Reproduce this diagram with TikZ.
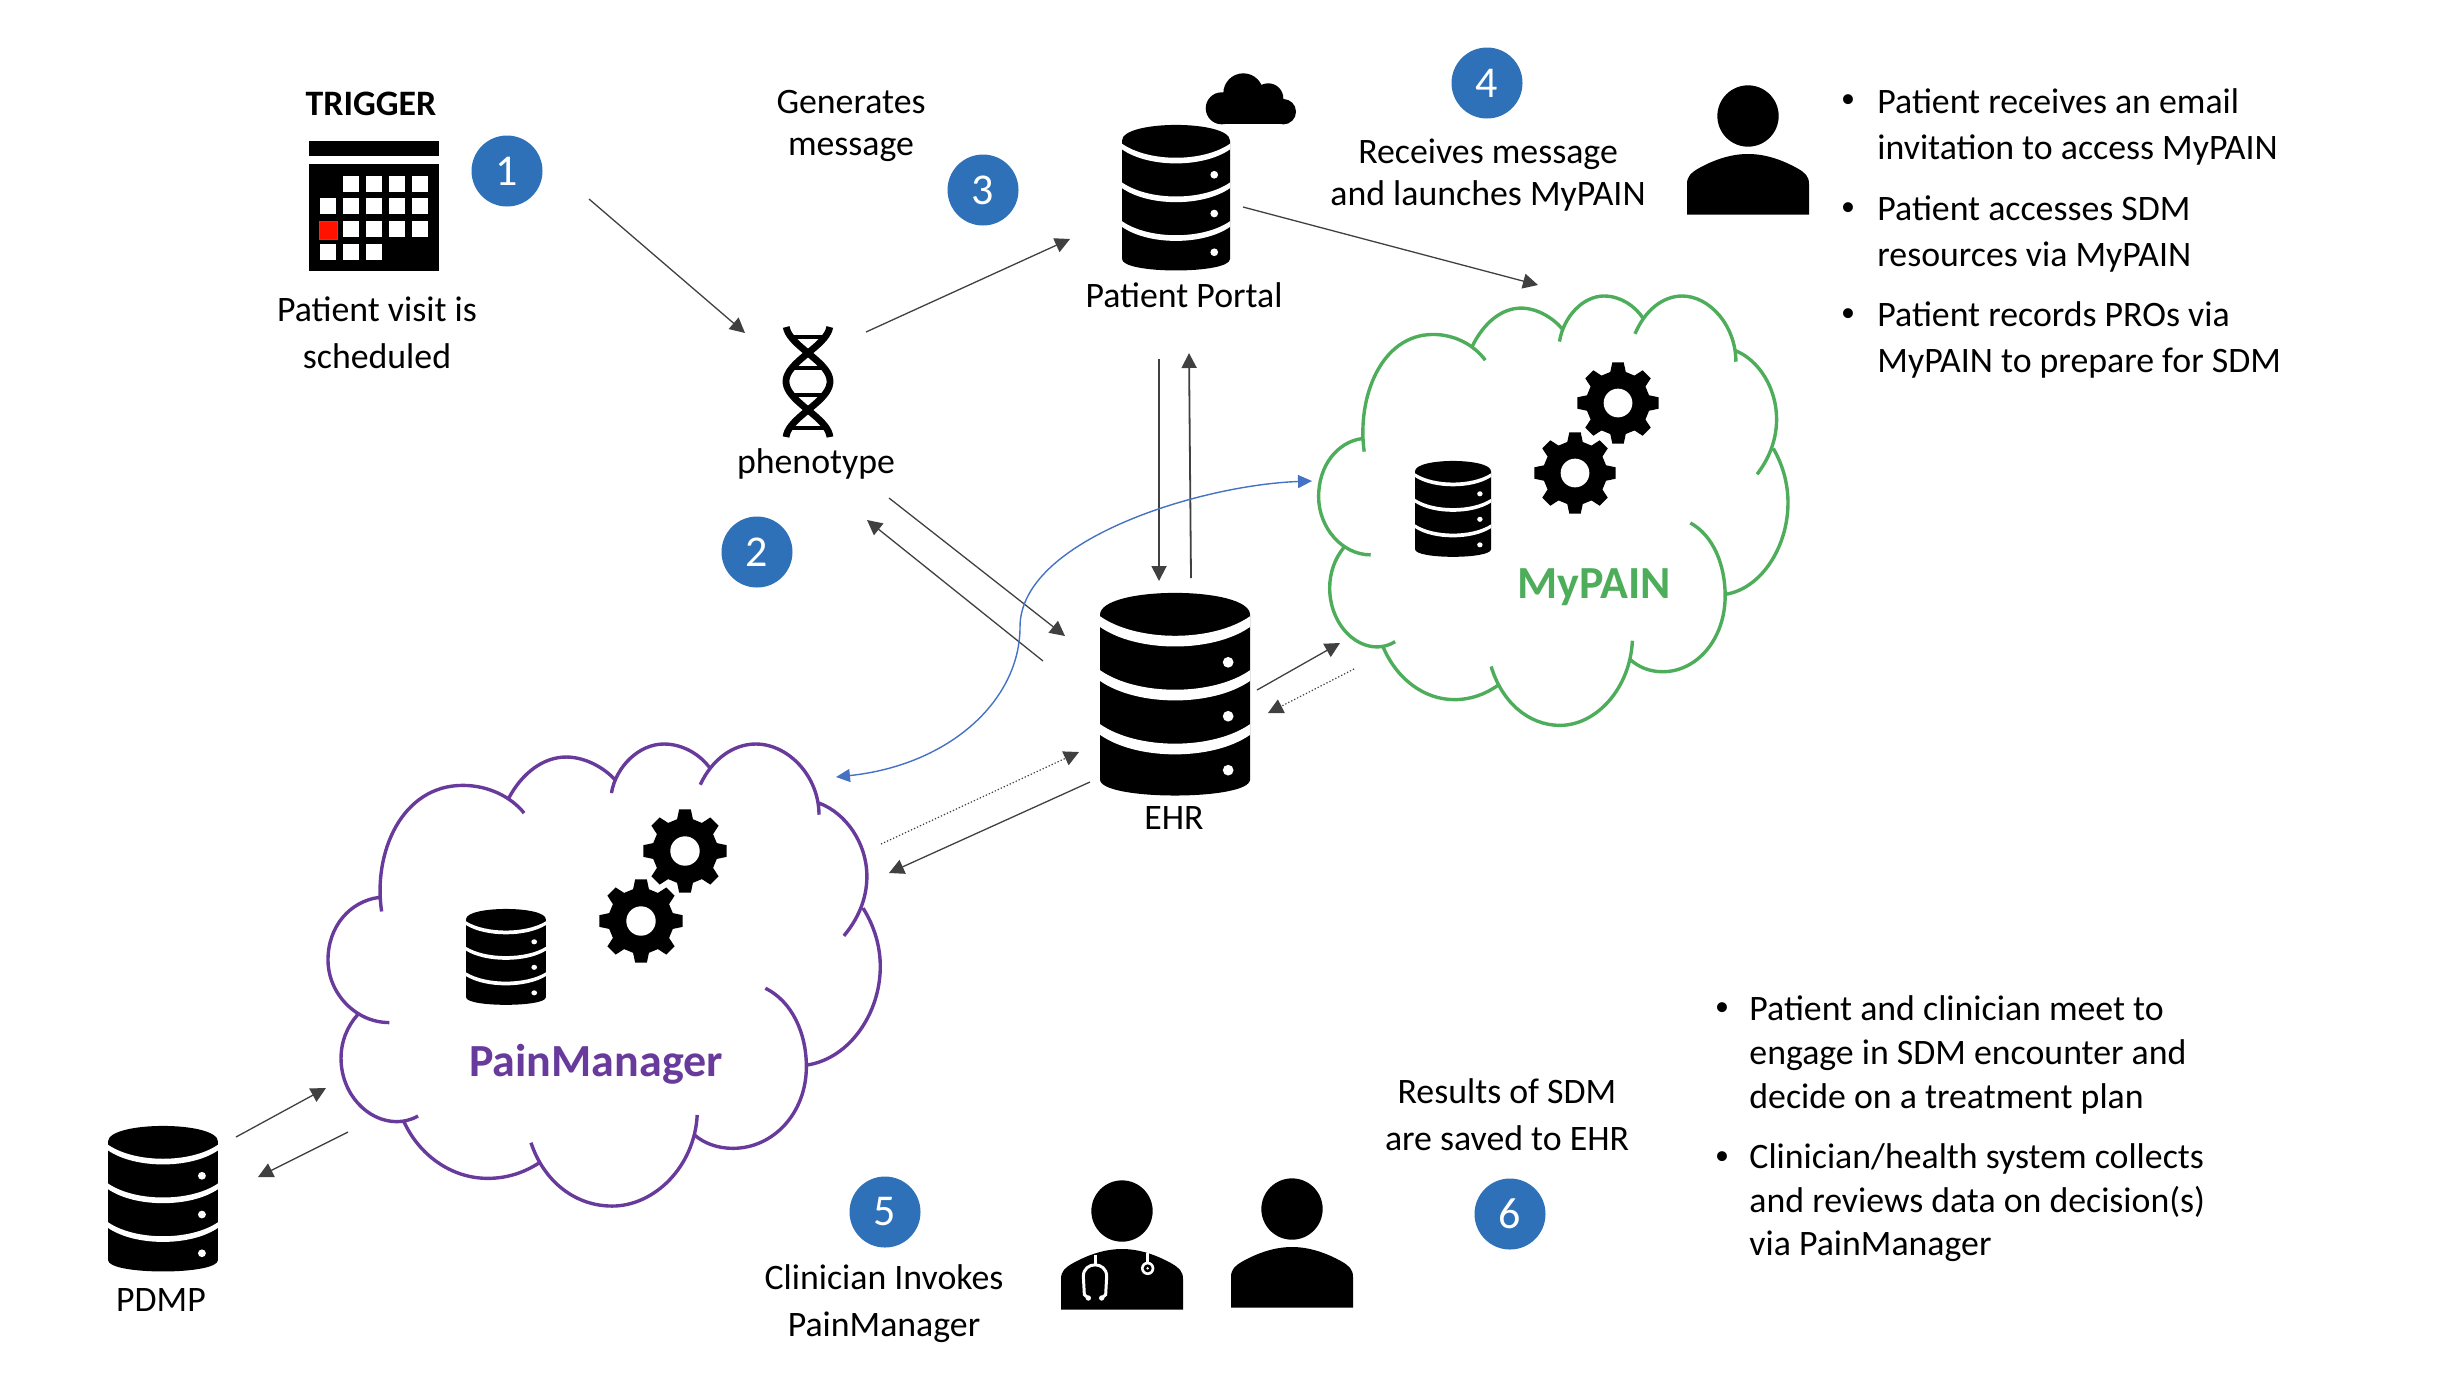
\documentclass[tikz,border=0pt]{standalone}
\usepackage{fontspec}
\setmainfont{Carlito}
\usetikzlibrary{arrows.meta}
\definecolor{numblue}{HTML}{2E71B8}
\definecolor{linkblue}{HTML}{4472C4}
\definecolor{arrowgray}{HTML}{404040}
\definecolor{mypaingreen}{HTML}{4EAD5B}
\definecolor{painpurple}{HTML}{673A9C}
\tikzset{
  bodytext/.style={inner sep=0pt,align=center,font=\fontsize{17.9}{23.5}\selectfont},
  tighttext/.style={inner sep=0pt,align=center,font=\fontsize{17.9}{21}\selectfont},
  listtext/.style={inner sep=0pt,align=left,anchor=west,font=\fontsize{17.9}{22.7}\selectfont},
  listtextb/.style={inner sep=0pt,align=left,anchor=west,font=\fontsize{17.9}{21.8}\selectfont},
  bulletdot/.style={inner sep=0pt,font=\fontsize{14}{20}\selectfont},
  numdot/.style={circle,fill=numblue,text=white,inner sep=0pt,minimum size=35.5pt,font=\fontsize{22}{24}\selectfont},
  flowline/.style={arrowgray,line width=0.65pt,-{Triangle[length=7.5pt,width=7.5pt]}},
  thickflow/.style={flowline,line width=0.9pt},
  dotline/.style={flowline,densely dotted,line width=0.6pt},
  bluelink/.style={linkblue,line width=0.7pt,{Triangle[length=7pt,width=6.5pt]}-{Triangle[length=7pt,width=6.5pt]}},
  pics/dbicon/.style={code={
    \fill (0,47) .. controls (0,-16) and (322,-16) .. (322,47) -- (322,401)
      .. controls (322,447) and (0,447) .. (0,401) -- cycle;
    \foreach \dy in {0,116,232}{
      \fill[white] (0,#1+\dy) .. controls (80,#1+56+\dy) and (242,#1+56+\dy) .. (322,#1+\dy) -- (322,73+\dy)
        .. controls (242,129+\dy) and (80,129+\dy) .. (0,73+\dy) -- cycle;
      \fill[white] (275,149+\dy) circle (11.5);
    }
  }},
  pics/gearicon/.style={code={
    \fill (-14:78) \foreach \a in {0,45,...,315}{ -- (\a-14:78) -- (\a-8:100) -- (\a+8:100) -- (\a+14:78) } -- cycle;
    \fill[white] (0,0) circle (35);
  }},
  pics/personicon/.style={code={
    \fill (0,0) circle (92);
    \fill (-183,296) -- (-183,204) .. controls (-183,180) and (-170,170) .. (-150,158)
      .. controls (-100,130) and (-50,114) .. (0,114) .. controls (50,114) and (100,130) .. (150,158)
      .. controls (170,170) and (183,180) .. (183,204) -- (183,296) -- cycle;
  }},
  pics/stethicon/.style={code={
    \draw[white,line width=1.5pt] (-81,131) -- (-81,161);
    \draw[white,line width=1.5pt] (-101,261) -- (-113,251) -- (-116,196)
      .. controls (-116,150) and (-46,150) .. (-46,196) -- (-49,251) -- (-61,261);
    \draw[white,line width=1.5pt] (77,126) -- (77,156);
    \fill[white] (-101,261) circle (8) (-61,261) circle (8) (77,172) circle (20);
    \fill (77,172) circle (12);
    \fill[white] (77,172) circle (4);
  }},
  pics/cloudshape/.style={code={
    \begin{scope}[shift={(-48,-43)}]
    \draw[#1,line width=1.7pt]
      (188,545) .. controls (165,370) and (240,167) .. (400,167) .. controls (465,167) and (525,200) .. (560,250)
      (520,205) .. controls (555,130) and (610,82) .. (670,82) .. controls (720,82) and (770,115) .. (797,150)
      (788,190) .. controls (800,110) and (860,43) .. (925,43) .. controls (975,43) and (1020,75) .. (1045,115)
      (1020,165) .. controls (1050,90) and (1105,43) .. (1165,43) .. controls (1250,43) and (1330,140) .. (1330,255)
      (1330,220) .. controls (1400,250) and (1455,340) .. (1455,440) .. controls (1455,510) and (1430,570) .. (1395,618)
      (1445,535) .. controls (1475,590) and (1490,650) .. (1490,710) .. controls (1490,850) and (1410,985) .. (1300,1005)
      (1190,775) .. controls (1260,815) and (1297,910) .. (1297,1010) .. controls (1297,1150) and (1210,1255) .. (1105,1255)
        .. controls (1065,1255) and (1030,1240) .. (1005,1215)
      (1012,1155) .. controls (1005,1310) and (900,1428) .. (790,1428) .. controls (690,1428) and (610,1350) .. (578,1238)
      (600,1298) .. controls (560,1328) and (515,1345) .. (465,1345) .. controls (370,1345) and (285,1275) .. (245,1172)
      (283,1158) .. controls (265,1170) and (245,1175) .. (228,1175) .. controls (150,1175) and (82,1090) .. (82,985)
        .. controls (82,935) and (98,890) .. (125,855)
      (208,878) .. controls (120,878) and (48,790) .. (48,690) .. controls (48,590) and (105,515) .. (180,503);
    \end{scope}
  }},
}
\begin{document}
\begin{tikzpicture}[x=0.5pt,y=-0.5pt]
\useasboundingbox (0,0) rectangle (2444,1372);

% 箭头的端点
\coordinate (calEnd) at (589,199);
\coordinate (dnaIn) at (745,333);
\coordinate (dnaOut) at (866,332);
\coordinate (portalIn) at (1070,239);
\coordinate (portalOut) at (1243,207);
\coordinate (mypainTop) at (1538,285);
\coordinate (portalDown) at (1159,359);
\coordinate (ehrUp) at (1159,581);
\coordinate (ehrUpB) at (1191,578);
\coordinate (portalDownB) at (1189,353);
\coordinate (dnaLow) at (889,498);
\coordinate (ehrLeft) at (1065,636);
\coordinate (ehrLeftB) at (1043,661);
\coordinate (dnaLowB) at (867,520);
\coordinate (ehrRight) at (1257,690);
\coordinate (mypainLow) at (1340,643);
\coordinate (mypainLowB) at (1354,669);
\coordinate (ehrRightB) at (1268,713);
\coordinate (painTop) at (881,844);
\coordinate (ehrLower) at (1079,752);
\coordinate (ehrLowerB) at (1090,782);
\coordinate (painTopB) at (889,873);
\coordinate (pdmpOut) at (236,1137);
\coordinate (painLeft) at (326,1088);
\coordinate (painLeftB) at (348,1132);
\coordinate (pdmpIn) at (258,1177);
\coordinate (blueA) at (1312,481);
\coordinate (blueB) at (836,777);

% 日历
\fill (309,141) rectangle (439,156);
\fill (309,164) rectangle (439,271);
\foreach \x/\y in {343/176,366/176,389/176,412/176,
  320/198,343/198,366/198,389/198,412/198,
  343/221,366/221,389/221,412/221,
  320/244,343/244,366/244}{
  \fill[white] (\x,\y) rectangle ++(15.5,15.5);
}
\filldraw[fill=red!85!orange,draw=numblue,line width=0.5pt] (319,221) rectangle ++(18,18);
\node[inner sep=0pt,font=\bfseries\fontsize{17.9}{20}\selectfont] (trigger) at (371,104) {TRIGGER};
\node[bodytext] (visit) at (377,333) {Patient visit is\\scheduled};

% DNA
\draw[line width=3.4pt] plot[domain=327:437,samples=40] ({808+22*cos(3.158*(\x-381.5))},\x);
\draw[line width=3.4pt] plot[domain=327:437,samples=40] ({808-22*cos(3.158*(\x-381.5))},\x);
\foreach \y/\w in {337/18,368/13,395/13,428/18}{
  \draw[line width=2pt] (808-\w,\y) -- (808+\w,\y);
}
\node[bodytext] (phenotype) at (816,464) {phenotype};

% 数据库
\pic[xscale=.3354,yscale=.334] at (1122,125) {dbicon=56};
\pic[xscale=.466,yscale=.465] at (1100,593) {dbicon=50};
\pic[xscale=.3416,yscale=.334] at (108,1126) {dbicon=56};
\pic[xscale=.236,yscale=.22] at (1415,461) {dbicon=56};
\pic[xscale=.248,yscale=.22] at (466,909) {dbicon=56};

% 云
\fill (1221.7,108.3) circle (16) (1243.3,93.3) circle (20) (1268.3,98.3) circle (15) (1283.3,111.7) circle (12.7);
\fill (1221,105) rectangle (1283.3,124);
\pic[xscale=.3255,yscale=.31] at (1318.6,296) {cloudshape=mypaingreen};
\pic[xscale=.383,yscale=.3336] at (328,744) {cloudshape=painpurple};
\node[inner sep=0pt,text=mypaingreen,font=\bfseries\fontsize{23}{25}\selectfont] (mypain) at (1594,587) {MyPAIN};
\node[inner sep=0pt,text=painpurple,font=\bfseries\fontsize{23}{25}\selectfont] (painmanager) at (596,1064) {PainManager};

% 齿轮
\pic[scale=.41] at (1618,403) {gearicon};
\pic[scale=.41] at (1575,473) {gearicon};
\pic[scale=.42] at (685,851) {gearicon};
\pic[scale=.42] at (641,921) {gearicon};

% 人
\pic[scale=.3333] at (1748,116) {personicon};
\pic[scale=.3333] at (1122,1211) {personicon};
\pic[scale=.3333] at (1122,1211) {stethicon};
\pic[scale=.3333] at (1292,1209) {personicon};

% 序号
\node[numdot] (num1) at (507,171) {1};
\node[numdot] (num2) at (757,552) {2};
\node[numdot] (num3) at (983,190) {3};
\node[numdot] (num4) at (1487,83) {4};
\node[numdot] (num5) at (885,1212) {5};
\node[numdot] (num6) at (1510,1214) {6};

% 文字
\node[tighttext] (generates) at (851,126) {Generates\\message};
\node[bodytext] (portal) at (1184,295) {Patient Portal};
\node[tighttext] (receives) at (1488,175) {Receives message\\and launches MyPAIN};
\node[bodytext] (ehr) at (1174,818) {EHR};
\node[bodytext] (pdmp) at (161,1300) {PDMP};
\node[bodytext] (invokes) at (884,1304) {Clinician Invokes\\PainManager};
\node[bodytext] (results) at (1507,1115) {Results of SDM\\are saved to EHR};

% 右上角列表
\node[bulletdot] (dotA) at (1848,101) {\textbullet};
\node[listtext] (listA) at (1877,127) {Patient receives an email\\invitation to access MyPAIN};
\node[bulletdot] (dotB) at (1848,209) {\textbullet};
\node[listtext] (listB) at (1877,234) {Patient accesses SDM\\resources via MyPAIN};
\node[bulletdot] (dotC) at (1848,315) {\textbullet};
\node[listtext] (listC) at (1877,340) {Patient records PROs via\\MyPAIN to prepare for SDM};

% 右下角列表
\node[bulletdot] (dotD) at (1722,1009) {\textbullet};
\node[listtextb] (listD) at (1749,1055) {Patient and clinician meet to\\engage in SDM encounter and\\decide on a treatment plan};
\node[bulletdot] (dotE) at (1722,1158) {\textbullet};
\node[listtextb] (listE) at (1749,1203) {Clinician/health system collects\\and reviews data on decision(s)\\via PainManager};

% 箭头
\draw[flowline] (calEnd) -- (dnaIn);
\draw[flowline] (dnaOut) -- (portalIn);
\draw[flowline] (portalOut) -- (mypainTop);
\draw[thickflow] (portalDown) -- (ehrUp);
\draw[thickflow] (ehrUpB) -- (portalDownB);
\draw[flowline] (dnaLow) -- (ehrLeft);
\draw[flowline] (ehrLeftB) -- (dnaLowB);
\draw[flowline] (ehrRight) -- (mypainLow);
\draw[dotline] (mypainLowB) -- (ehrRightB);
\draw[dotline] (painTop) -- (ehrLower);
\draw[flowline] (ehrLowerB) -- (painTopB);
\draw[flowline] (pdmpOut) -- (painLeft);
\draw[flowline] (painLeftB) -- (pdmpIn);
\draw[bluelink] (blueA) .. controls (1200,485) and (1020,540) .. (1020,627)
  .. controls (1020,700) and (950,765) .. (blueB);
\end{tikzpicture}
\end{document}
